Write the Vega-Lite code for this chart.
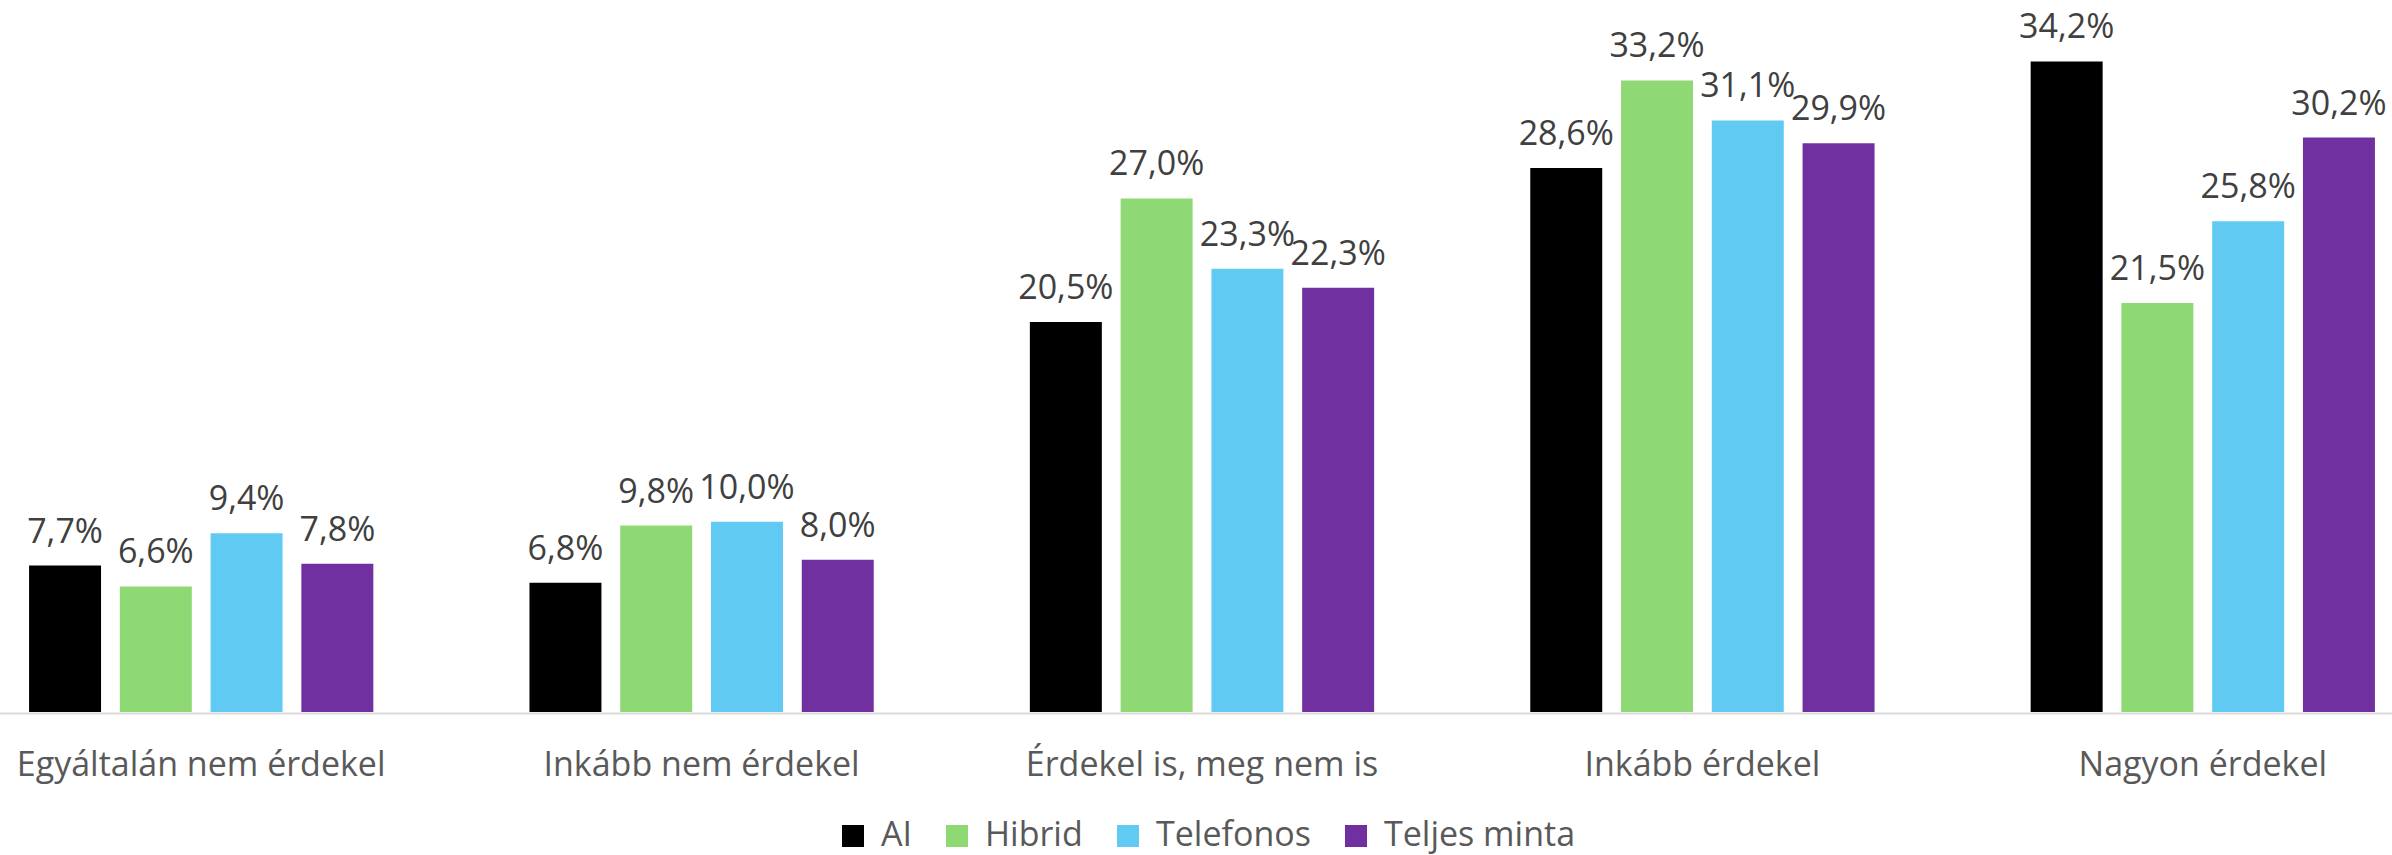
{
  "$schema": "https://vega.github.io/schema/vega-lite/v6.json",
  "width": 2392,
  "height": 712,
  "autosize": {"type": "none"},
  "padding": {"left": 0, "top": 0, "right": 0, "bottom": 143},
  "config": {
    "view": {"stroke": null},
    "font": "Open Sans",
    "locale": {"number": {"decimal": ",", "thousands": " ", "grouping": [3], "currency": ["", " Ft"]}}
  },
  "data": {
    "values": [
      {"cat": "Egyáltalán nem érdekel", "group": "AI", "value": 0.077},
      {"cat": "Egyáltalán nem érdekel", "group": "Hibrid", "value": 0.066},
      {"cat": "Egyáltalán nem érdekel", "group": "Telefonos", "value": 0.094},
      {"cat": "Egyáltalán nem érdekel", "group": "Teljes minta", "value": 0.078},
      {"cat": "Inkább nem érdekel", "group": "AI", "value": 0.068},
      {"cat": "Inkább nem érdekel", "group": "Hibrid", "value": 0.098},
      {"cat": "Inkább nem érdekel", "group": "Telefonos", "value": 0.100},
      {"cat": "Inkább nem érdekel", "group": "Teljes minta", "value": 0.080},
      {"cat": "Érdekel is, meg nem is", "group": "AI", "value": 0.205},
      {"cat": "Érdekel is, meg nem is", "group": "Hibrid", "value": 0.270},
      {"cat": "Érdekel is, meg nem is", "group": "Telefonos", "value": 0.233},
      {"cat": "Érdekel is, meg nem is", "group": "Teljes minta", "value": 0.223},
      {"cat": "Inkább érdekel", "group": "AI", "value": 0.286},
      {"cat": "Inkább érdekel", "group": "Hibrid", "value": 0.332},
      {"cat": "Inkább érdekel", "group": "Telefonos", "value": 0.311},
      {"cat": "Inkább érdekel", "group": "Teljes minta", "value": 0.299},
      {"cat": "Nagyon érdekel", "group": "AI", "value": 0.342},
      {"cat": "Nagyon érdekel", "group": "Hibrid", "value": 0.215},
      {"cat": "Nagyon érdekel", "group": "Telefonos", "value": 0.258},
      {"cat": "Nagyon érdekel", "group": "Teljes minta", "value": 0.302}
    ]
  },
  "encoding": {
    "x": {
      "field": "cat",
      "type": "nominal",
      "sort": ["Egyáltalán nem érdekel", "Inkább nem érdekel", "Érdekel is, meg nem is", "Inkább érdekel", "Nagyon érdekel"],
      "scale": {"range": [-49, 2453], "paddingInner": 0.312, "paddingOuter": 0.156},
      "axis": {
        "title": null,
        "domainColor": "#d9d9d9",
        "domainWidth": 2,
        "offset": 1,
        "ticks": false,
        "grid": false,
        "labelAngle": 0,
        "labelFont": "Open Sans",
        "labelFontSize": 34,
        "labelColor": "#595959",
        "labelPadding": 62,
        "labelBaseline": "alphabetic",
        "labelLimit": 1000,
        "labelOverlap": false
      }
    },
    "xOffset": {
      "field": "group",
      "type": "nominal",
      "sort": ["AI", "Hibrid", "Telefonos", "Teljes minta"],
      "scale": {"paddingInner": 0.207, "paddingOuter": 0}
    },
    "y": {
      "field": "value",
      "type": "quantitative",
      "scale": {"domain": [0, 0.3743], "nice": false, "zero": true},
      "axis": null
    }
  },
  "layer": [
    {
      "mark": {"type": "bar"},
      "encoding": {
        "color": {
          "field": "group",
          "type": "nominal",
          "sort": ["AI", "Hibrid", "Telefonos", "Teljes minta"],
          "scale": {"domain": ["AI", "Hibrid", "Telefonos", "Teljes minta"], "range": ["#000000", "#8fd974", "#61caf2", "#7030a0"]},
          "legend": {
            "title": null,
            "orient": "none",
            "legendX": 836,
            "legendY": 819,
            "direction": "horizontal",
            "padding": 0,
            "symbolType": "square",
            "symbolSize": 484,
            "symbolStrokeWidth": 0,
            "labelFont": "Open Sans",
            "labelFontSize": 34,
            "labelColor": "#595959",
            "labelOffset": 11,
            "labelLimit": 1000,
            "columnPadding": 28
          }
        }
      }
    },
    {
      "mark": {"type": "text", "baseline": "alphabetic", "dy": -23, "fontSize": 34, "font": "Open Sans", "color": "#404040"},
      "encoding": {
        "text": {"field": "value", "type": "quantitative", "format": ".1%"}
      }
    }
  ]
}
